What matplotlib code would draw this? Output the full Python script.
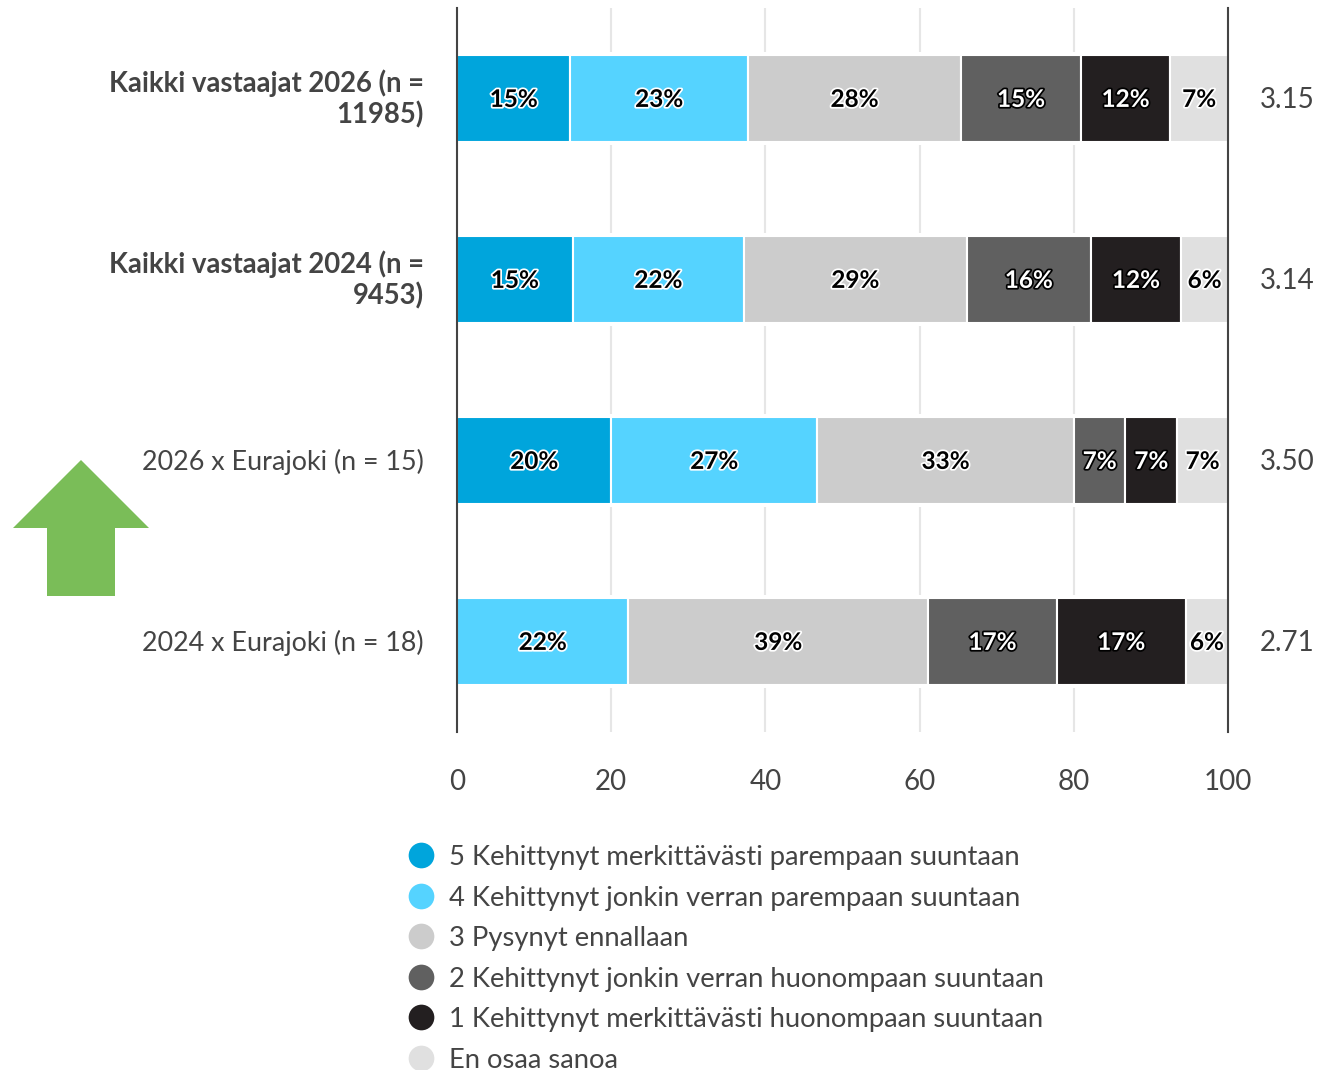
import matplotlib
matplotlib.use("Agg")
import matplotlib.pyplot as plt
import matplotlib.patheffects as pe
from matplotlib.lines import Line2D
from matplotlib.patches import Polygon
from matplotlib.transforms import ScaledTranslation
import numpy as np

plt.rcParams['font.family'] = ['Lato', 'DejaVu Sans']

W, H = 1317, 1070
tekstivari = "#444444"

rivit = ["Kaikki vastaajat 2026 (n =\n11985)", "Kaikki vastaajat 2024 (n =\n9453)",
         "2026 x Eurajoki (n = 15)", "2024 x Eurajoki (n = 18)"]
lihavoitu = [True, True, False, False]
keskiarvot = ["3.15", "3.14", "3.50", "2.71"]

sarjat = ["5 Kehittynyt merkittävästi parempaan suuntaan",
          "4 Kehittynyt jonkin verran parempaan suuntaan",
          "3 Pysynyt ennallaan",
          "2 Kehittynyt jonkin verran huonompaan suuntaan",
          "1 Kehittynyt merkittävästi huonompaan suuntaan",
          "En osaa sanoa"]
varit = ["#00a5dc", "#55d3ff", "#cccccc", "#606060", "#231f20", "#e0e0e0"]
arvovarit = ["black", "black", "black", "white", "white", "black"]
halot = ["white", "white", "white", "black", "black", "white"]

s5 = [14.7, 15.0, 20.0, 0.0]
s4 = [23.0, 22.2, 26.7, 22.2]
s3 = [27.7, 28.9, 33.3, 38.9]
s2 = [15.5, 16.1, 6.7, 16.7]
s1 = [11.6, 11.7, 6.7, 16.7]
eos = [7.5, 6.1, 6.6, 5.5]

l5 = ["15%", "15%", "20%", ""]
l4 = ["23%", "22%", "27%", "22%"]
l3 = ["28%", "29%", "33%", "39%"]
l2 = ["15%", "16%", "7%", "17%"]
l1 = ["12%", "12%", "7%", "17%"]
leos = ["7%", "6%", "7%", "6%"]

arvot = [s5, s4, s3, s2, s1, eos]
tekstit = [l5, l4, l3, l2, l1, leos]

fig = plt.figure(figsize=(W / 100, H / 100), dpi=100)
ax = fig.add_axes([457 / W, 1 - 732 / H, (1228 - 457) / W, (732 - 8) / H])

y = np.arange(len(rivit))
# white band behind the bars cuts the grid lines
ax.barh(y, [100] * len(y), height=0.51, color="white", zorder=2)

vasen = np.zeros(len(y))
for arvo, teksti, vari, av, halo in zip(arvot, tekstit, varit, arvovarit, halot):
    arvo = np.array(arvo)
    ax.barh(y, arvo, left=vasen, height=0.48, color=vari, edgecolor="white", linewidth=1.5, zorder=3)
    for i in range(len(y)):
        if teksti[i]:
            ax.text(vasen[i] + arvo[i] / 2, y[i] + 0.005, teksti[i], ha="center", va="center", fontsize=17.5,
                    fontweight="bold", color=av, zorder=5,
                    path_effects=[pe.withStroke(linewidth=2.5, foreground=halo)])
    vasen = vasen + arvo

ax.set_xlim(0, 100)
ax.set_ylim(len(y) - 0.5, -0.5)
ax.set_xticks([0, 20, 40, 60, 80, 100])
ax.set_yticks(y)
ax.set_yticklabels(rivit, color=tekstivari, linespacing=1.17)
ax.tick_params(axis="x", length=0, pad=27, labelsize=20, labelcolor=tekstivari)
ax.tick_params(axis="y", length=0, pad=24)
for lab, b in zip(ax.get_yticklabels(), lihavoitu):
    lab.set_fontweight("bold" if b else "normal")
    lab.set_fontsize(19.8 if b else 19.4)
    # two-line labels sit a bit higher than the centred position
    lab.set_transform(lab.get_transform() + ScaledTranslation(0, (4 if b else 1) / 100, fig.dpi_scale_trans))
ax.grid(axis="x", color="#e6e6e6", linewidth=1.5, zorder=1)
ax.set_axisbelow(True)
for puoli in ["top", "bottom"]:
    ax.spines[puoli].set_visible(False)
for puoli in ["left", "right"]:
    ax.spines[puoli].set_color(tekstivari)
    ax.spines[puoli].set_linewidth(1.5)
    ax.spines[puoli].set_zorder(6)

for i, k in enumerate(keskiarvot):
    ax.text(1.0765, y[i] + 0.01, k, transform=ax.get_yaxis_transform(), ha="center", va="center",
            fontsize=20, color=tekstivari)

kahvat = [Line2D([], [], linestyle="none", marker="o", markersize=18.5, color=v, markeredgewidth=0) for v in varit]
fig.legend(kahvat, sarjat, loc="upper left", bbox_to_anchor=(399 / W, 1 - 845 / H), frameon=False,
           fontsize=19.7, labelcolor=tekstivari, labelspacing=0.567, handletextpad=0.22, borderpad=0,
           borderaxespad=0, handlelength=1.6)

# green up arrow beside the Eurajoki rows
nuoli_x = [81, 149, 115, 115, 47, 47, 13]
nuoli_y = [460, 528, 528, 596, 596, 528, 528]
fig.add_artist(Polygon([(a / W, 1 - b / H) for a, b in zip(nuoli_x, nuoli_y)], closed=True,
                       facecolor="#7abd58", edgecolor="none", transform=fig.transFigure))

fig.savefig("out.png", dpi=100)
